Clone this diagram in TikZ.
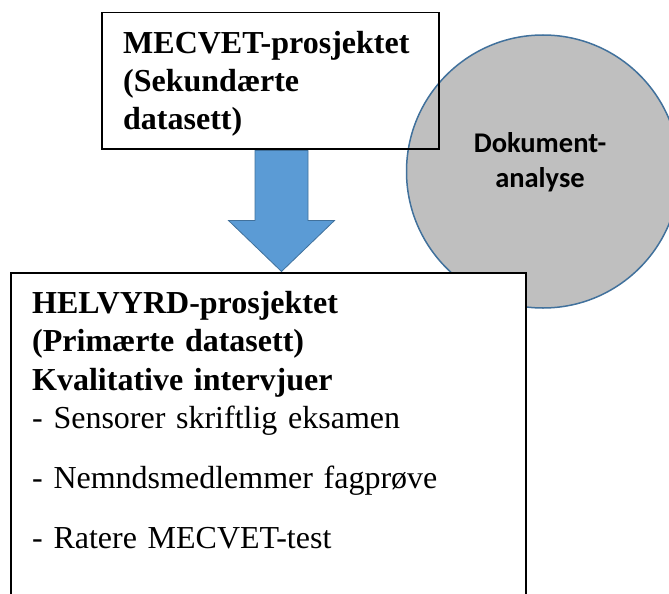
\documentclass[tikz,border=0pt]{standalone}
\usepackage{fontspec}
\setmainfont{Liberation Serif}
\newfontfamily\calibrifont{Carlito}
\usetikzlibrary{positioning,shapes.geometric,calc}
\definecolor{blueline}{HTML}{41719C}
\definecolor{bluefill}{HTML}{5B9BD5}
\definecolor{grayfill}{HTML}{BFBFBF}
\tikzset{
    textnode/.style={align=left, inner sep=0pt, anchor=base west, font=\fontsize{32}{38.5}\selectfont},
    % Project box
    node_boks/.style = {rectangle, draw=black, line width=1.5pt, anchor=north west, inner sep=0pt},
    % Analysis circle
    node_sirkel/.style = {circle, draw=blueline, fill=grayfill, line width=1.5pt, minimum size=273pt, inner sep=0pt},
    % Block arrow
    pil/.style = {draw=blueline, fill=bluefill, line width=0.8pt, line join=miter}
}

\begin{document}
\begin{tikzpicture}[x=1pt, y=-1pt]
    \useasboundingbox (0,0) rectangle (669,594);
    \clip (0,0) rectangle (669,594);

        \node[node_sirkel] (analyse) at (543,171.5) {};
        \node[textnode, align=center, anchor=base, text width=170pt, font=\calibrifont\bfseries\fontsize{28.5}{35}\selectfont]
            (analysetekst) at ([xshift=-3pt, yshift=19.5pt]analyse.center) {Dokument-\\analyse};

        \node[node_boks, minimum width=337pt, minimum height=136pt] (mecvet) at (101,12) {};
        \node[textnode, text width=300pt] (mecvettekst) at ([xshift=22pt, yshift=-41pt]mecvet.north west)
            {\bfseries MECVET-prosjektet\\(Sekundærte\\datasett)};

        % block arrow from the top box down to the bottom box
        \coordinate (pilstart) at (mecvet.south -| 281.5,0);
        \draw[pil] ($(pilstart)+(-26.5,1)$) -- ++(53,0) -- ++(0,70) -- ++(26.5,0)
            -- ($(pilstart)+(0,122)$) -- ++(-53,-51) -- ++(26.5,0) -- cycle;

        \node[node_boks, fill=white, minimum width=515pt, minimum height=340pt] (helvyrd) at (10,272) {};
        \node[textnode, text width=480pt] (helvyrdtekst) at ([xshift=22pt, yshift=-41pt]helvyrd.north west)
            {\bfseries HELVYRD-prosjektet\\(Primærte datasett)\\Kvalitative intervjuer\\
            \mdseries - Sensorer skriftlig eksamen\\[21.5pt]
            - Nemndsmedlemmer fagprøve\\[21.5pt]
            - Ratere MECVET-test};
    \end{tikzpicture}
\end{document}
